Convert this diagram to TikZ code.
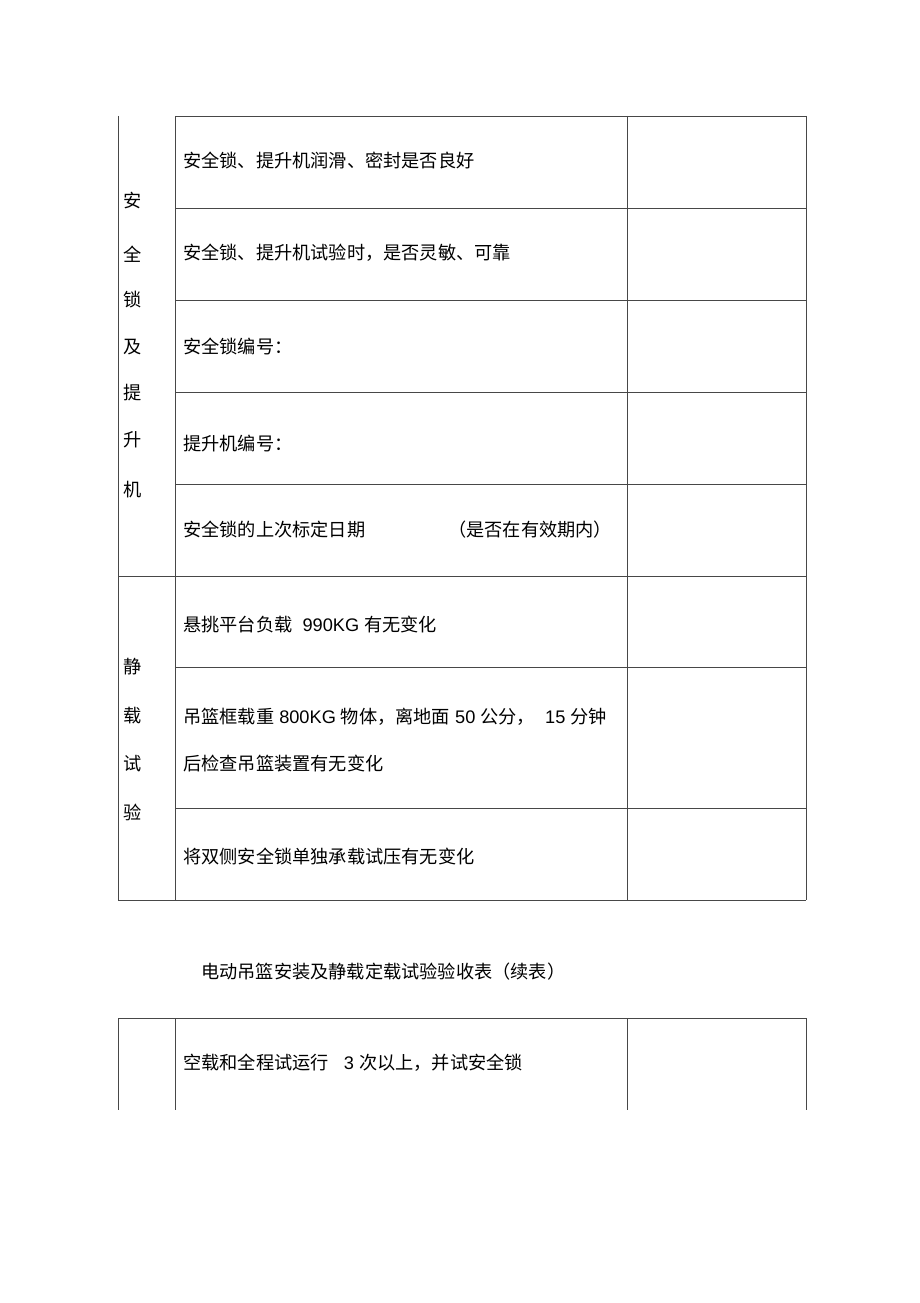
\documentclass[tikz,border=0pt]{standalone}
\usepackage{fontspec}
\setmainfont{Noto Sans CJK SC}
\newfontfamily\lat{Liberation Sans}
\usetikzlibrary{positioning}

\begin{document}
\begin{tikzpicture}[x=1pt,y=-1pt,
  grid/.style = {draw=black!72, line width=0.9pt},
  cell/.style = {anchor=west, inner sep=0pt,
    font=\fontsize{18.2}{18.2}\selectfont},
  side/.style = {inner sep=0pt, font=\fontsize{18.2}{18.2}\selectfont}]
  \useasboundingbox (0,0) rectangle (920,1303);

  % first table
  \draw[grid] (175,116) -- (806,116);
  \foreach \y in {208,300,392,484,667,808}
    \draw[grid] (175,\y) -- (806,\y);
  \foreach \y in {576,900}
    \draw[grid] (118,\y) -- (806,\y);
  \foreach \x in {118,175,627,806}
    \draw[grid] (\x,116) -- (\x,900);

  % group labels, one character per line
  \foreach \ch/\y [count=\i] in {安/201,全/254,锁/300,及/347,提/393,升/440,机/490}
    \node[side] (lock\i) at (133,\y) {\ch};
  \foreach \ch/\y [count=\i] in {静/667,载/716,试/764,验/812}
    \node[side] (static\i) at (133,\y) {\ch};

  % items
  \node[cell] (seal)  at (183,161) {安全锁、提升机润滑、密封是否良好};
  \node[cell] (sens)  at (183,253) {安全锁、提升机试验时，是否灵敏、可靠};
  \node[cell] (lockno) at (183,346) {安全锁编号：};
  \node[cell] (hoistno) at (183,444) {提升机编号：};
  \node[cell] (date)  at (183,530) {安全锁的上次标定日期};
  \node[cell] (valid) at (448,530) {（是否在有效期内）};
  \node[cell] (load)  at (183,625) {悬挑平台负载{\lat\ \ 990KG }有无变化};
  \node[cell] (cage)  at (183,717) {吊篮框载重{\lat\ 800KG }物体，离地面{\lat\ 50 }公分，{\lat\ \ 15 }分钟};
  \node[cell] (cage2) at (183,764) {后检查吊篮装置有无变化};
  \node[cell] (single) at (183,856) {将双侧安全锁单独承载试压有无变化};

  % continued table
  \node[cell] (title) at (201,972) {电动吊篮安装及静载定载试验验收表（续表）};
  \draw[grid] (118,1018) -- (806,1018);
  \foreach \x in {118,175,627,806}
    \draw[grid] (\x,1018) -- (\x,1110);
  \node[cell] (run) at (183,1063) {空载和全程试运行{\lat\ \ \ 3 }次以上，并试安全锁};
\end{tikzpicture}
\end{document}
